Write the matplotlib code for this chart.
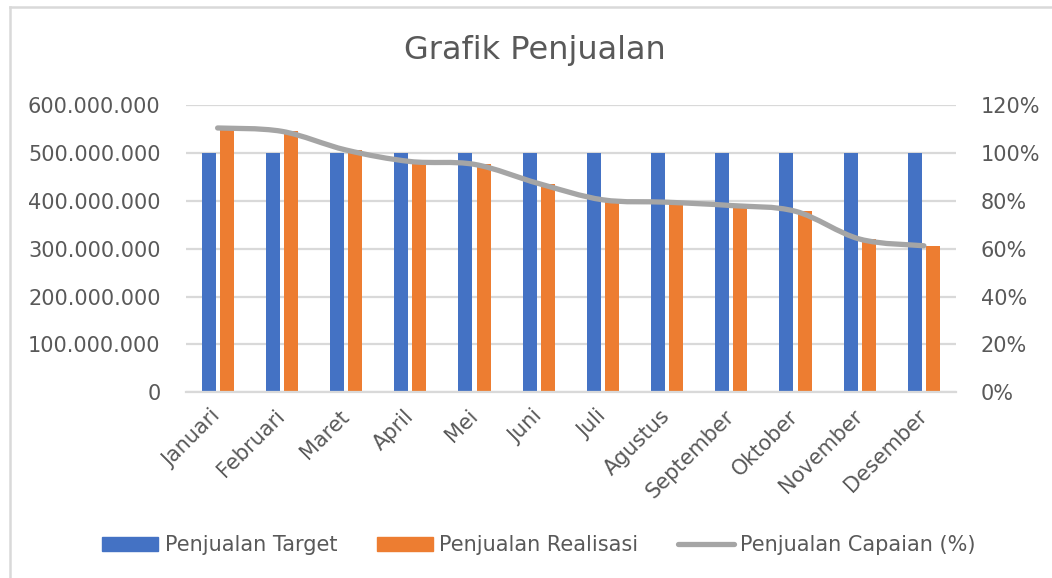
import numpy as np
import matplotlib.pyplot as plt
from matplotlib.path import Path
from matplotlib.patches import PathPatch
from matplotlib.lines import Line2D
from matplotlib.ticker import FuncFormatter, PercentFormatter

MONTHS = ["Januari", "Februari", "Maret", "April", "Mei", "Juni", "Juli",
          "Agustus", "September", "Oktober", "November", "Desember"]
TARGET = [500e6] * 12
REALISASI = [552e6, 545e6, 506e6, 482e6, 476e6, 436e6, 402e6, 397e6,
             390e6, 378e6, 320e6, 306e6]
CAPAIAN = [1.104, 1.090, 1.012, 0.964, 0.952, 0.872, 0.804, 0.794,
           0.780, 0.756, 0.640, 0.612]

BLUE, ORANGE, GREY = "#4472C4", "#ED7D31", "#A5A5A5"
TXT = "#595959"
FS = 15
plt.rcParams["font.family"] = ["DejaVu Sans"]

W, H = 1052, 578
fig = plt.figure(figsize=(W / 100, H / 100), dpi=100)
ax = fig.add_axes([185.5 / W, 1 - 392.3 / H, (956 - 185.5) / W, (392.3 - 105) / H])
ax2 = ax.twinx()

x = np.arange(len(MONTHS))
bw = 0.218
ax.bar(x - 0.141, TARGET, bw, color=BLUE, zorder=2)
ax.bar(x + 0.143, REALISASI, bw, color=ORANGE, zorder=2)

ax.set_xlim(-0.5, 11.5)
ax.set_ylim(0, 600e6)
ax.set_yticks(np.arange(0, 600e6 + 1, 100e6))
ax.yaxis.set_major_formatter(FuncFormatter(lambda v, p: f"{v:,.0f}".replace(",", ".")))
ax.grid(axis="y", color="#D9D9D9", lw=1.6, zorder=0)
ax.set_axisbelow(True)
ax.set_xticks(x)
ax.set_xticklabels(MONTHS, rotation=45, ha="right", va="center", rotation_mode="anchor")
ax.tick_params(axis="x", length=0, pad=15, labelsize=FS, labelcolor=TXT)
ax.tick_params(axis="y", length=0, pad=18, labelsize=FS, labelcolor=TXT)
for s in ax.spines.values():
    s.set_visible(False)
ax.spines["bottom"].set_visible(True)
ax.spines["bottom"].set_color("#D9D9D9")
ax.spines["bottom"].set_linewidth(1.6)

# smoothed line (Excel style) on secondary axis
pts = np.column_stack([x, CAPAIAN])
verts = [pts[0]]
codes = [Path.MOVETO]
n = len(pts)
for i in range(n - 1):
    p0 = pts[max(i - 1, 0)]
    p1, p2 = pts[i], pts[i + 1]
    p3 = pts[min(i + 2, n - 1)]
    verts += [p1 + (p2 - p0) / 6, p2 - (p3 - p1) / 6, p2]
    codes += [Path.CURVE4] * 3
ax2.add_patch(PathPatch(Path(verts, codes), fill=False, edgecolor=GREY,
                        lw=3.8, capstyle="round", joinstyle="round", zorder=3))
ax2.set_ylim(0, 1.2)
ax2.set_yticks(np.arange(0, 1.21, 0.2))
ax2.yaxis.set_major_formatter(PercentFormatter(1.0, decimals=0))
ax2.tick_params(axis="y", length=0, pad=18, labelsize=FS, labelcolor=TXT)
for s in ax2.spines.values():
    s.set_visible(False)

fig.text(535 / W, 1 - 50 / H, "Grafik Penjualan", ha="center", va="center",
         fontsize=23, color=TXT)

handles = [plt.Rectangle((0, 0), 1, 1, color=BLUE),
           plt.Rectangle((0, 0), 1, 1, color=ORANGE),
           Line2D([], [], color=GREY, lw=3.8, solid_capstyle="round")]
fig.legend(handles, ["Penjualan Target", "Penjualan Realisasi", "Penjualan Capaian (%)"],
           loc="center", bbox_to_anchor=(539 / W, 1 - 545 / H), ncol=3, frameon=False,
           fontsize=FS, labelcolor=TXT, handlelength=2.7, handleheight=0.65,
           handletextpad=0.3, columnspacing=1.9)

# chart area border (left / top visible)
fig.add_artist(Line2D([10 / W, 10 / W], [0, 1 - 7 / H], transform=fig.transFigure,
                      color="#D9D9D9", lw=1.8))
fig.add_artist(Line2D([10 / W, 1], [1 - 7 / H, 1 - 7 / H], transform=fig.transFigure,
                      color="#D9D9D9", lw=1.8))

fig.savefig("out.png", dpi=100)
